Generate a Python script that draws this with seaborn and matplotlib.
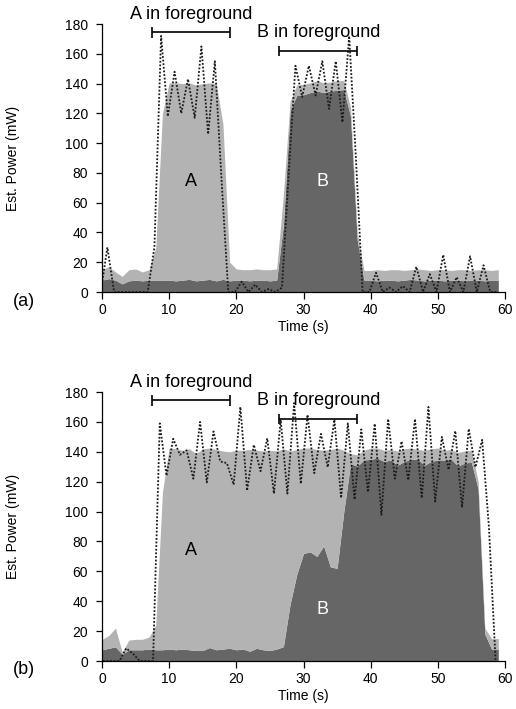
import numpy as np
import matplotlib
matplotlib.use("Agg")
import matplotlib.pyplot as plt
import seaborn as sns

# ---------------- data ----------------
time_s = list(range(60))

# panel (a): stacked estimates (B = dark bottom layer, top = A+B)
a_dark_B = [8, 9, 8, 5.5, 7.5, 8, 7.5, 8, 8, 8,
            8, 7.5, 8, 8.5, 7.5, 8, 8.5, 7.5, 8.5, 7.5,
            8, 8, 7.5, 8, 8, 7.5, 8, 45, 122, 132,
            132.5, 134, 135, 134, 135, 135.5, 136, 118, 35, 8,
            8, 7.5, 8, 8, 7.5, 8, 8.5, 8, 7.5, 8,
            8, 7.5, 8, 8, 7.5, 8, 8, 7.5, 8, 8]
a_top = [15, 17, 13.5, 10.5, 15, 15.5, 13.5, 15, 30, 120,
         140.5, 140.5, 140, 140.5, 139, 140, 140.5, 140, 113, 20,
         15.5, 15, 15, 15.5, 15, 15, 15.5, 65, 128, 139,
         139.5, 140.5, 142, 140.5, 141, 142, 142, 124, 40, 14.5,
         14.5, 15, 14.5, 15, 15, 14.5, 15, 15.5, 15, 14.5,
         15, 15, 14.5, 15, 15, 14.5, 15, 15, 14.5, 15]
# measured power, panel (a)
a_meas = [0, 30, 0, 0, 0, 0, 0, 0, 30, 172,
          118, 148, 120, 143, 117, 165, 106, 155, 75, 0,
          0, 7, 0, 5, 0, 2, 0, 3, 80, 152,
          131, 152, 132, 155, 123, 155, 114, 172, 90, 0,
          0, 13, 0, 3, 0, 4, 0, 17, 0, 12,
          0, 25, 0, 10, 0, 24, 0, 18, 0, 0]
a_meas_offset = -0.2

# panel (b)
b_dark_B = [7.5, 8.5, 9.5, 4.5, 7.5, 7.5, 7.5, 8, 7.5, 7.5,
            8, 7.5, 8, 7.5, 7, 7, 9, 7.5, 8, 8.5,
            7.5, 8, 6.5, 8.5, 7.5, 7, 8, 9.6, 38, 58,
            72, 73, 70, 77, 63, 62, 100, 132, 130.5, 134.5,
            135, 135.8, 133.5, 134.5, 131, 133.5, 135, 135, 131, 133.5,
            134.5, 134.5, 135, 130.5, 132.5, 133, 115, 18, 8, 8]
b_top = [14.5, 17, 22, 6, 14, 14.5, 14.5, 16, 24, 113,
         142.5, 142, 141, 142, 138.7, 142, 142.5, 141.5, 140.5, 140,
         141, 141, 141.5, 141, 140.5, 141, 140.5, 142, 140.5, 141.5,
         142.5, 142.5, 141.5, 141, 141.5, 142.5, 141, 138.7, 138, 141,
         142.5, 142.5, 141, 141.5, 140.5, 142, 142.5, 141.5, 141, 142,
         142.5, 141, 141.5, 139.5, 140.5, 141, 120, 22, 15, 15]
b_meas = [0, 0, 0, 0, 8.5, 5, 0, 0, 0, 159,
          124, 148.7, 138, 141, 122, 160, 119.5, 153.6, 133.5, 132.4,
          118, 170, 114, 144.7, 127, 149, 112, 161.5, 112, 172.6,
          118.6, 164.8, 125.7, 152, 129.7, 161.5, 109, 159, 108, 155,
          113, 158.8, 97.8, 162, 122, 147, 121, 162, 109, 170,
          106.7, 150, 128, 154, 102.7, 155.4, 129.7, 148, 90, 0]
b_meas_offset = -0.4

fg_A = (7.4, 19.0)   # "A in foreground" interval (s)
fg_B = (26.4, 38.0)  # "B in foreground" interval (s)

xticks = [0, 10, 20, 30, 40, 50, 60]
yticks = [0, 20, 40, 60, 80, 100, 120, 140, 160, 180]

# ---------------- style ----------------
sns.set_style("ticks")
plt.rcParams['font.family'] = ['Liberation Sans', 'DejaVu Sans']
plt.rcParams['axes.linewidth'] = 0.9
for k in ('text.color', 'axes.labelcolor', 'xtick.color', 'ytick.color',
          'axes.edgecolor', 'xtick.labelcolor', 'ytick.labelcolor'):
    plt.rcParams[k] = 'black'

LIGHT = "#b3b3b3"
DARK = "#666666"

fig = plt.figure(figsize=(5.16, 7.09), dpi=100)
ax1 = fig.add_axes([0.1977, 0.5881, 0.781, 0.378])
ax2 = fig.add_axes([0.1977, 0.0677, 0.781, 0.3794])


def draw(ax, dark, top, meas, offset, blabel_y):
    t = np.array(time_s, dtype=float)
    dark = np.array(dark, dtype=float)
    a_part = np.array(top, dtype=float) - dark
    ax.stackplot(t, dark, a_part, colors=[DARK, LIGHT], linewidth=0)
    sns.lineplot(x=t + offset, y=meas, ax=ax, color="#1a1a1a",
                 linestyle=(0, (1, 1)), linewidth=1.3, sort=False)
    ax.set_xlim(0, 60)
    ax.set_ylim(0, 180)
    ax.set_xticks(xticks)
    ax.set_yticks(yticks)
    ax.tick_params(axis='both', labelsize=10, width=0.9, color='k',
                   labelcolor='k')
    ax.tick_params(axis='x', length=5, pad=3)
    ax.tick_params(axis='y', length=4, pad=6)
    for s in ("top", "right"):
        ax.spines[s].set_visible(False)
    for s in ("left", "bottom"):
        ax.spines[s].set_color('k')
    ax.set_xlabel("Time (s)", fontsize=10, labelpad=2, color='k')
    ax.set_ylabel("Est. Power (mW)", fontsize=10, color='k')
    ax.yaxis.set_label_coords(-0.2035, 0.5)
    # brackets
    for (x0, x1), yb, txt, yt in ((fg_A, 174.4, "A in foreground", 186.3),
                                  (fg_B, 162.0, "B in foreground", 174.0)):
        ax.hlines(yb, x0, x1, color='k', linewidth=1.2, clip_on=False)
        ax.vlines([x0, x1], yb - 3.5, yb + 3.5, color='k', linewidth=1.2,
                  clip_on=False)
        ax.text((x0 + x1) / 2 + 0.1, yt, txt, ha='center', va='center',
                fontsize=13, clip_on=False, color='k')
    ax.text(13.3, 74, "A", ha='center', va='center', fontsize=13, color='k')
    ax.text(32.8, blabel_y, "B", ha='center', va='center', fontsize=13,
            color='white')


draw(ax1, a_dark_B, a_top, a_meas, a_meas_offset, 74)
draw(ax2, b_dark_B, b_top, b_meas, b_meas_offset, 34.6)

fig.text(24 / 516, 1 - 301.7 / 709, "(a)", ha='center', va='center',
         fontsize=13, color='k')
fig.text(24 / 516, 1 - 669 / 709, "(b)", ha='center', va='center',
         fontsize=13, color='k')

fig.savefig("out.png", dpi=100)
